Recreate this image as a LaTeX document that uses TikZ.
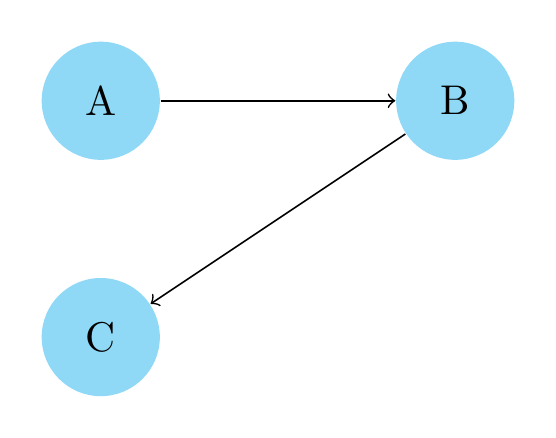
\documentclass[tikz,border=0pt]{standalone}
\definecolor{nodeblue}{RGB}{143,217,246}
\begin{document}
\begin{tikzpicture}[
  vertex/.style={circle, fill=nodeblue, minimum size=1cm, inner sep=0pt},
  link/.style={->, line width=0.4pt}
]
\useasboundingbox (-0.8528,-2.8528) rectangle (3.8528,0.8528);
\node[vertex] (A) at (0,0) {A};
\node[vertex] (B) at (3,0) {B};
\node[vertex] (C) at (0,-2) {C};
\draw[link] (A) -- (B);
\draw[link] (B) -- (C);
\end{tikzpicture}
\end{document}
